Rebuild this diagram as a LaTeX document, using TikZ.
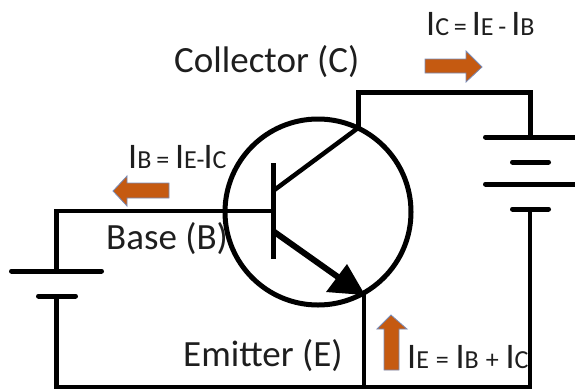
\documentclass[tikz,border=0pt]{standalone}
\usepackage{fontspec}
\setmainfont{Carlito}
\usetikzlibrary{arrows.meta}
\definecolor{arrowfill}{RGB}{197,90,17}
\definecolor{arrowedge}{RGB}{120,140,185}
\definecolor{ink}{RGB}{30,30,30}
\tikzset{
  x=1pt,y=-1pt,
  wire/.style={line width=5pt,black,line cap=round,line join=miter},
  thinwire/.style={line width=4.5pt,black},
  flow/.style={draw=arrowedge,fill=arrowfill,line width=0.8pt},
  lbl/.style={text=ink,inner sep=0pt,font=\fontsize{37}{40}\selectfont,anchor=base west},
  big/.style={text=ink,inner sep=0pt,anchor=base west}
}
\newcommand{\curr}[2]{{\fontsize{36}{38}\selectfont #1}{\fontsize{26}{28}\selectfont #2}}
\begin{document}
\begin{tikzpicture}
\useasboundingbox (0,0) rectangle (575,389);
\coordinate (c0) at (318,212);
\draw[wire] (c0) circle (93);
% collector circuit and right battery
\coordinate (cA) at (358,128);
\coordinate (cB) at (358,92);
\coordinate (cC) at (530,92);
\coordinate (cD) at (530,137);
\draw[wire,line cap=butt] (cA) -- (cB) -- (cC) -- (cD);
\draw[wire] (485.5,137) -- (577,137);
\draw[wire] (512.5,162) -- (548.5,162);
\draw[wire] (485.5,184) -- (577,184);
\draw[wire] (512.5,209) -- (548.5,209);
\coordinate (rB) at (530,387);
\coordinate (lB) at (56.5,387);
\draw[thinwire] (530,209) -- (rB) -- (lB) -- (56.5,296);
% left battery and base
\draw[wire] (38.5,296) -- (75.5,296);
\draw[wire] (11.5,271) -- (101.5,271);
\draw[thinwire] (56.5,271) -- (56.5,211) -- (273,211);
% transistor
\draw[wire,line cap=butt] (273,163) -- (273,259);
\draw[thinwire] (273,191) -- (cA);
\draw[line width=6pt,black] (273,231) -- (345,282);
\fill[black] (365,295) -- (326,292) -- (347,264) -- cycle;
\draw[thinwire] (364,292) -- (364,387);
% current arrows
\draw[flow] (425,59) -- (466,59) -- (466,51) -- (482,67) -- (466,82) -- (466,73) -- (425,73) -- cycle;
\draw[flow] (169,183) -- (169,198) -- (127,198) -- (127,206) -- (113,191) -- (127,176) -- (127,183) -- cycle;
\draw[flow] (384,370) -- (384,329) -- (377,329) -- (391,315) -- (407,329) -- (399,329) -- (399,370) -- cycle;
% text
\node[lbl] (tc) at (174,72) {Collector (C)};
\node[lbl] (tb) at (106,249) {Base (B)};
\node[lbl] (te) at (183,366) {Emitter (E)};
\node[big] (ic) at (426,35) {\curr{I}{C\hspace{-1pt} = \hspace{-1pt}}\curr{I}{E\hspace{-1pt} - \hspace{-1pt}}\curr{I}{B}};
\node[big] (ib) at (128,168) {\curr{I}{B\hspace{-1pt} = }\curr{I}{E-\hspace{-1pt}}\curr{I}{C}};
\node[big] (ie) at (407,368) {\curr{I}{E\hspace{1pt} = \hspace{1pt}}\curr{I}{B\hspace{1pt} + \hspace{1pt}}\curr{I}{C}};
\end{tikzpicture}
\end{document}
